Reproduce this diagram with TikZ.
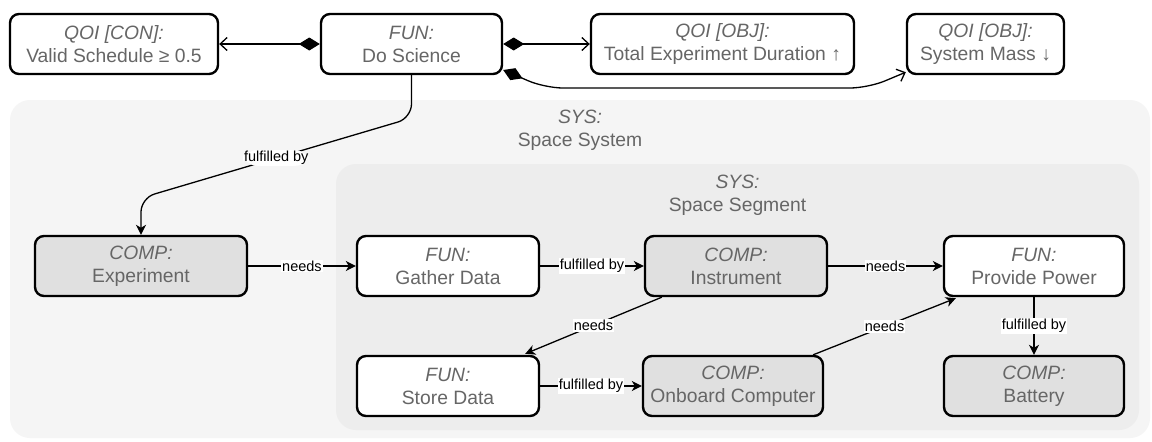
\documentclass[tikz,border=0pt]{standalone}
\usepackage{fontspec}
\setmainfont{Liberation Sans}
\usetikzlibrary{arrows.meta,calc}
\definecolor{txtgray}{HTML}{666666}
\definecolor{compgray}{HTML}{E0E0E0}
\definecolor{sysfill}{HTML}{F5F5F5}
\definecolor{segfill}{HTML}{EDEDED}
\newcommand\mainfs{\fontsize{19.3}{23}\selectfont}
\newcommand\lblfs{\fontsize{14.5}{16}\selectfont}
\begin{document}
\begin{tikzpicture}[x=1pt,y=-1pt,
  box/.style={draw=black, line width=2.4pt, rounded corners=9pt, minimum height=60pt,
    inner sep=0pt, align=center, text=txtgray, font=\mainfs, fill=white},
  comp/.style={box, fill=compgray},
  container/.style={rounded corners=20pt, inner sep=0pt},
  contlbl/.style={align=center, text=txtgray, font=\mainfs, inner sep=0pt},
  conn/.style={draw=black, line width=1.3pt},
  fill tip/.style={-{Stealth[length=10pt,width=10pt,inset=3pt]}},
  agg/.style={{Diamond[length=21pt,width=13pt]}-{Straight Barb[length=7pt,width=13pt]}},
  lbl/.style={fill=white, inner sep=1pt, text=black, font=\lblfs},
]
\useasboundingbox (0,0) rectangle (1152,442);
\fill[white] (0,0) rectangle (1152,442);

% containers
\node[container, fill=sysfill, minimum width=1140pt, minimum height=338pt] (sys) at (580,269) {};
\node[contlbl] (syslbl) at (580,130) {\textit{SYS:}\\Space System};
\node[container, fill=segfill, minimum width=803pt, minimum height=266pt] (seg) at (737.5,297) {};
\node[contlbl] (seglbl) at (737.5,195) {\textit{SYS:}\\Space Segment};

% top row
\node[box, minimum width=208pt] (qcon) at (114,44) {\textit{QOI [CON]:}\\Valid Schedule ≥ 0.5};
\node[box, minimum width=181pt] (ds) at (411.5,44) {\textit{FUN:}\\Do Science};
\node[box, minimum width=263pt] (qtot) at (722.5,44) {\textit{QOI [OBJ]:}\\Total Experiment Duration ↑};
\node[box, minimum width=157pt] (qmass) at (985.5,44) {\textit{QOI [OBJ]:}\\System Mass ↓};

% middle row
\node[comp, minimum width=212pt] (exp) at (141,266) {\textit{COMP:}\\Experiment};
\node[box, minimum width=182pt] (gath) at (448,266) {\textit{FUN:}\\Gather Data};
\node[comp, minimum width=182pt] (inst) at (736,266) {\textit{COMP:}\\Instrument};
\node[box, minimum width=180pt] (pp) at (1034,266) {\textit{FUN:}\\Provide Power};

% bottom row
\node[box, minimum width=182pt] (store) at (448,386) {\textit{FUN:}\\Store Data};
\node[comp, minimum width=180pt] (onb) at (733,386) {\textit{COMP:}\\Onboard Computer};
\node[comp, minimum width=180pt] (batt) at (1034,386) {\textit{COMP:}\\Battery};

% QOI links
\draw[conn, agg] (ds.west) -- (qcon.east);
\draw[conn, agg] (ds.east) -- (qtot.west);
\coordinate (dsm) at ($(ds.east)+(0,26)$);
\coordinate (qmassin) at ($(qmass.south west)+(0,-3)$);
\draw[conn, agg, rounded corners=18pt] (dsm) -- (545,88) -- (868,88) -- (qmassin);

% fulfilled by Experiment
\draw[conn, fill tip, rounded corners=14pt] (ds.south) -- (411.5,118)
  -- node[lbl] {fulfilled by} (141,198) -- (exp.north);

% middle row links
\draw[conn, fill tip] (exp.east) -- node[lbl] {needs} (gath.west);
\draw[conn, fill tip] (gath.east) -- node[lbl] {fulfilled by} (inst.west);
\draw[conn, fill tip] (inst.east) -- node[lbl] {needs} (pp.west);

% diagonal links
\coordinate (instout) at ($(inst.south west)+(18,0)$);
\coordinate (storein) at ($(store.north east)+(-15,-1)$);
\draw[conn, fill tip] (instout) -- node[lbl] {needs} (storein);
\draw[conn, fill tip] (store.east) -- node[lbl] {fulfilled by} (onb.west);
\coordinate (onbout) at ($(onb.north east)+(-11,0)$);
\coordinate (ppin) at ($(pp.south west)+(13,1)$);
\draw[conn, fill tip] (onbout) -- node[lbl] {needs} (ppin);
\draw[conn, fill tip] (pp.south) -- node[lbl] {fulfilled by} (batt.north);
\end{tikzpicture}
\end{document}
